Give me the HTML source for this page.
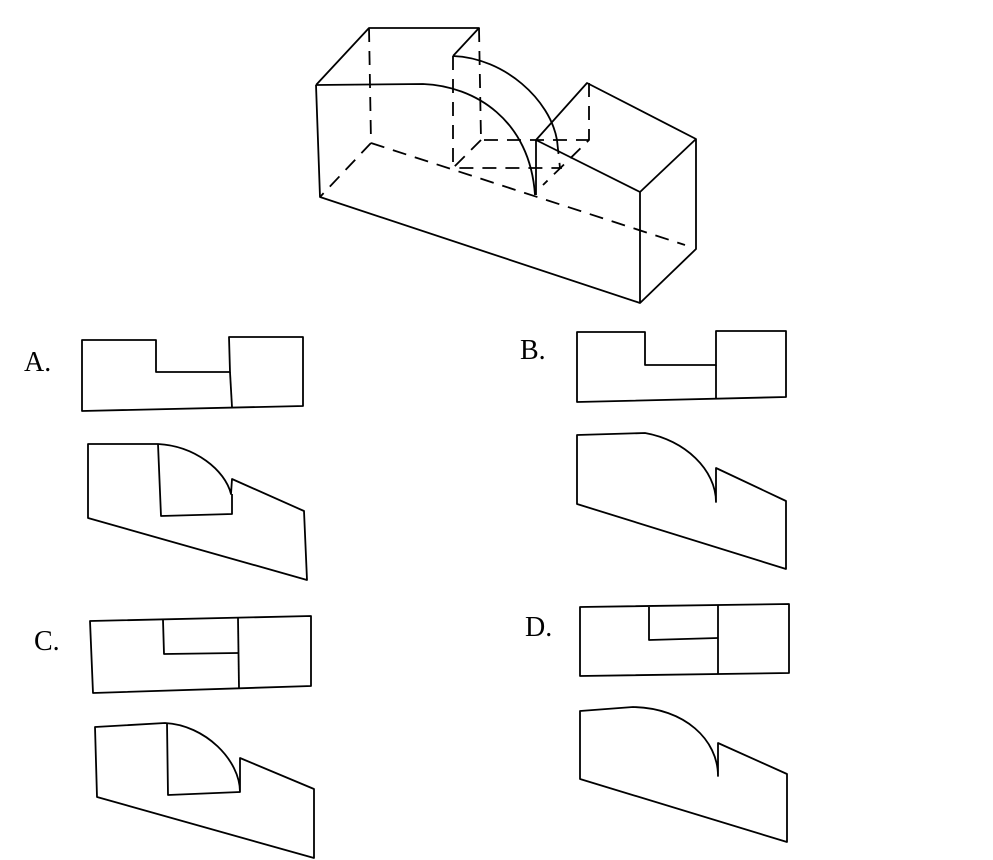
<!DOCTYPE html>
<html><head><meta charset="utf-8"><style>html,body{margin:0;padding:0;background:#fff}svg{display:block}</style></head>
<body>
<svg width="993" height="860" viewBox="0 0 993 860" xmlns="http://www.w3.org/2000/svg">
<g fill="none" stroke="#000" stroke-width="1.8" stroke-linejoin="round">
<!-- top figure solid -->
<path d="M316,85 L320,197 L640,303 L696,249 L696,139 L587,83 L536,140 L640,192 L640,303"/>
<path d="M640,192 L696,139"/>
<path d="M316,85 L369,28 L479,28 L453,56"/>
<path d="M316,85 L423,84 C475,86 530,120 535,195"/>
<path d="M453,56 C505,58 550,100 557,140"/>
<path d="M536,140 L536,195"/>
<!-- dashed -->
<g stroke-dasharray="14,9">
<path d="M369,28 L371,142"/>
<path d="M371,143 L320,197"/>
<path d="M371,143 L685,245"/>
<path d="M479,28 L481,140 L589,140"/>
<path d="M589,83 L589,140 L543,185"/>
<path d="M481,140 L453,168 L562,168"/>
<path d="M557,140 L560,168"/>
<path d="M453,56 L453,168"/>
</g>
<!-- A -->
<path d="M82,340 L156,340 L156,372 L230,372 L229,337 L303,337 L303,406 L82,411 Z"/>
<path d="M230,372 L232,407"/>
<path d="M88,444 L158,444 C195,446 225,470 231,494 L232,479 L304,511 L307,580 L88,518 Z"/>
<path d="M158,444 L161,516 L232,514 L232,494"/>
<!-- B -->
<path d="M577,332 L645,332 L645,365 L716,365 L716,331 L786,331 L786,397 L577,402 Z"/>
<path d="M716,365 L716,399"/>
<path d="M577,435 L645,433 C685,440 716,470 716,502 L716,468 L786,501 L786,569 L577,504 Z"/>
<!-- C -->
<path d="M90,621 L311,616 L311,686 L93,693 Z"/>
<path d="M163,620 L164,654 L238,653"/>
<path d="M238,618 L239,688"/>
<path d="M95,727 L165,723 C205,725 240,760 240,792 L240,758 L314,789 L314,858 L97,797 Z"/>
<path d="M167,723 L168,795 L240,792"/>
<!-- D -->
<path d="M580,607 L789,604 L789,673 L580,676 Z"/>
<path d="M649,607 L649,640 L718,638"/>
<path d="M718,605 L718,674"/>
<path d="M580,711 L633,707 C685,708 718,740 718,776 L718,743 L787,774 L787,842 L580,779 Z"/>
</g>
<g font-family="Liberation Serif, serif" font-size="28" fill="#000">
<text x="24" y="371">A.</text>
<text x="520" y="359">B.</text>
<text x="34" y="650">C.</text>
<text x="525" y="636">D.</text>
</g>
</svg>
</body></html>
